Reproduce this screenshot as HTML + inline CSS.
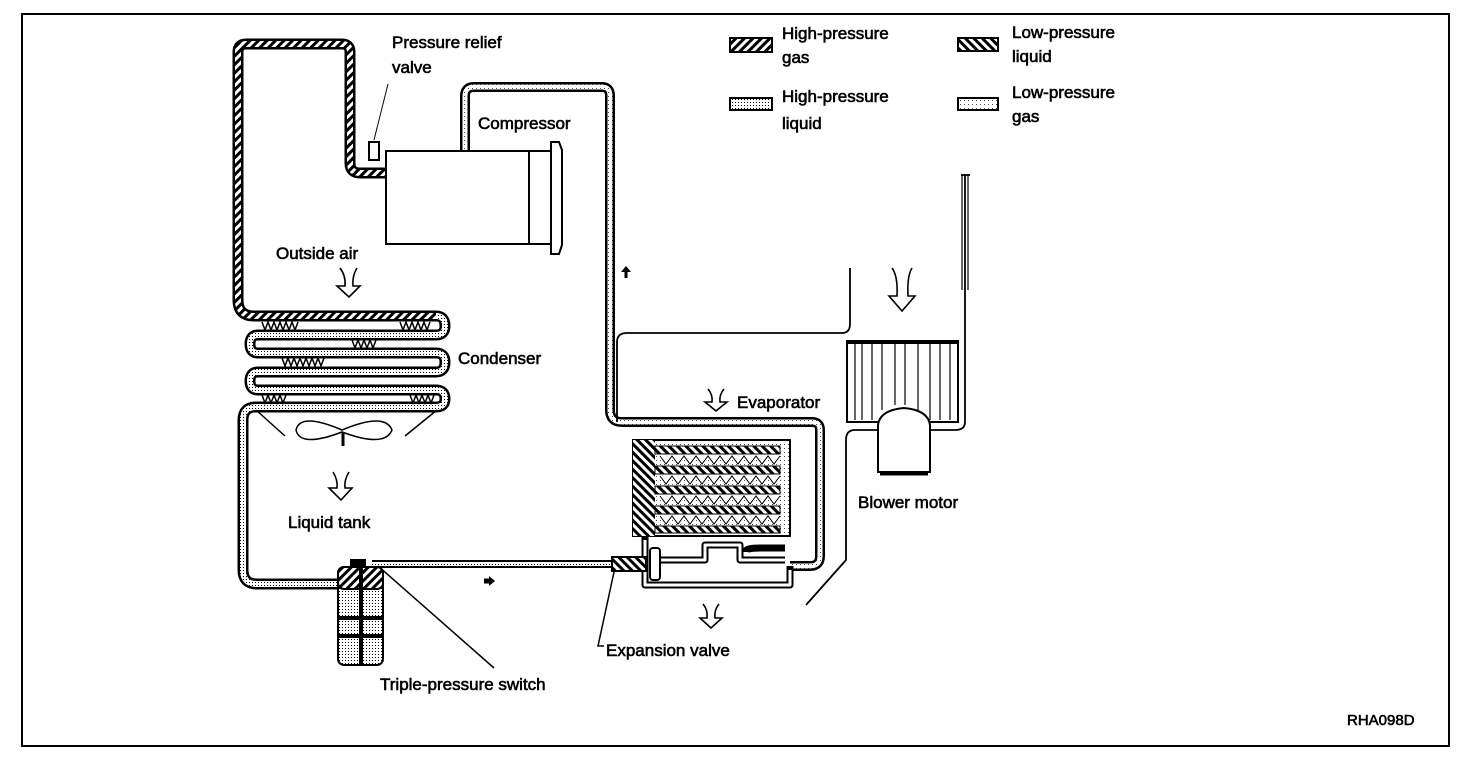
<!DOCTYPE html>
<html><head><meta charset="utf-8"><style>
html,body{margin:0;padding:0;background:#fff}
svg{display:block}
text{font-family:"Liberation Sans",sans-serif;font-size:17px;fill:#000;stroke:#000;stroke-width:0.6}
</style></head><body>
<svg width="1472" height="770" viewBox="0 0 1472 770" xmlns="http://www.w3.org/2000/svg">
<defs>
<pattern id="hg" width="6" height="6" patternUnits="userSpaceOnUse" patternTransform="rotate(45)">
<rect width="6" height="6" fill="#fff"/><rect width="3" height="6" fill="#000"/></pattern>
<pattern id="ll" width="6" height="6" patternUnits="userSpaceOnUse" patternTransform="rotate(-45)">
<rect width="6" height="6" fill="#fff"/><rect width="3" height="6" fill="#000"/></pattern>
<pattern id="hl" width="3" height="3" patternUnits="userSpaceOnUse">
<rect width="3" height="3" fill="#fff"/><rect width="1" height="1" fill="#000"/></pattern>
<pattern id="lg" width="4" height="4" patternUnits="userSpaceOnUse">
<rect width="4" height="4" fill="#fff"/><rect width="1" height="1" fill="#555"/></pattern>
</defs>
<rect x="22" y="14" width="1427" height="732" fill="none" stroke="#000" stroke-width="2"/>

<!-- legend -->
<rect x="730" y="38" width="42" height="14" fill="url(#hg)" stroke="#000" stroke-width="2"/>
<rect x="730" y="98" width="42" height="12" fill="url(#hl)" stroke="#000" stroke-width="2"/>
<rect x="958" y="38" width="40" height="13" fill="url(#ll)" stroke="#000" stroke-width="2"/>
<rect x="958" y="98" width="40" height="12" fill="url(#lg)" stroke="#000" stroke-width="2"/>
<text x="782" y="39">High-pressure</text><text x="782" y="63">gas</text>
<text x="782" y="102">High-pressure</text><text x="782" y="129">liquid</text>
<text x="1012" y="38">Low-pressure</text><text x="1012" y="62">liquid</text>
<text x="1012" y="98">Low-pressure</text><text x="1012" y="122">gas</text>

<!-- high-pressure gas pipe -->
<g fill="none" stroke-linejoin="round">
<path d="M386,173 L360,173 Q350,173 350,163 L350,52 Q350,44 342,44 L246,44 Q238,44 238,52 L238,300 Q238,316 254,316 L436,316 Q445,316 445,326 Q445,335 436,335 L258,335 Q250,335 250,344 Q250,353 258,353 L436,353 Q445,353 445,362 Q445,372 436,372 L258,372 Q250,372 250,381 Q250,390 258,390 L436,390 Q445,390 445,399 Q445,407 436,407 L256,407 Q243,407 243,420 L243,570 Q243,584 257,584 L340,584" stroke="#000" stroke-width="11"/>
<path d="M386,173 L360,173 Q350,173 350,163 L350,52 Q350,44 342,44 L246,44 Q238,44 238,52 L238,300 Q238,316 254,316 L436,316" stroke="url(#hg)" stroke-width="6"/>
<path d="M436,316 Q445,316 445,326 Q445,335 436,335 L258,335 Q250,335 250,344 Q250,353 258,353 L436,353 Q445,353 445,362 Q445,372 436,372 L258,372 Q250,372 250,381 Q250,390 258,390 L436,390 Q445,390 445,399 Q445,407 436,407 L256,407 Q243,407 243,420 L243,570 Q243,584 257,584 L340,584" stroke="url(#hl)" stroke-width="6"/>
<path d="M372,564 L612,564" stroke="#000" stroke-width="8"/>
<path d="M372,564 L612,564" stroke="url(#hl)" stroke-width="4"/>
<path d="M465,152 L465,96 Q465,87 474,87 L602,87 Q610,87 610,96 L610,410 Q610,422 622,422 L812,422 Q820,422 820,430 L820,556 Q820,566 810,566 L790,566" stroke="#000" stroke-width="10"/>
<path d="M465,152 L465,96 Q465,87 474,87 L602,87 Q610,87 610,96 L610,410 Q610,422 622,422 L812,422 Q820,422 820,430 L820,556 Q820,566 810,566 L790,566" stroke="url(#lg)" stroke-width="5"/>
</g>
<g stroke="#000" stroke-width="1.5" fill="none">
<path d="M262,322 l3,8 l3,-8 l3,8 l3,-8 l3,8 l3,-8 l3,8 l3,-8 l3,8 l3,-8 l3,8 l3,-8 M400,322 l3,8 l3,-8 l3,8 l3,-8 l3,8 l3,-8 l3,8 l3,-8 l3,8 l3,-8"/>
<path d="M352,340 l3,8 l3,-8 l3,8 l3,-8 l3,8 l3,-8 l3,8 l3,-8"/>
<path d="M282,358 l3,8 l3,-8 l3,8 l3,-8 l3,8 l3,-8 l3,8 l3,-8 l3,8 l3,-8 l3,8 l3,-8 l3,8 l3,-8"/>
<path d="M262,395 l3,8 l3,-8 l3,8 l3,-8 l3,8 l3,-8 l3,8 l3,-8 M410,395 l3,8 l3,-8 l3,8 l3,-8 l3,8 l3,-8 l3,8 l3,-8"/>
<path d="M256,410 L285,436 M437,410 L405,436"/>
<path d="M342,430 Q300,412 296,430 Q300,448 342,432 Q385,448 392,430 Q385,412 342,430 Z"/>
<path d="M343,432 L343,446" stroke-width="3"/>
</g>
<g stroke="#000" stroke-width="2" fill="#fff">
<rect x="386" y="151" width="143" height="93"/>
<rect x="529" y="151" width="22" height="93"/>
<path d="M551,142 L559,142 L562,150 L562,245 L559,254 L551,254 Z"/>
<rect x="369" y="142" width="10" height="18"/>
</g>
<line x1="388" y1="84" x2="374" y2="140" stroke="#000" stroke-width="1"/>
<path d="M626,278 l0,-9" stroke="#000" stroke-width="3"/><path d="M621,272 l5,-6 l5,6z"/>
<path d="M484,581 l8,0" stroke="#000" stroke-width="5"/><path d="M489,576 l6,5 l-6,5z"/>

<g fill="#fff" stroke="#000" stroke-width="1.6">
<path d="M340,268 Q346,276 345,286 L337,286 L349,297 L360,286 L353,286 Q352,276 357,268"/>
<path d="M333,472 Q338,480 337,488 L329,488 L341,500 L352,488 L345,488 Q344,480 349,472"/>
<path d="M892,268 Q898,276 897,296 L889,296 L902,311 L915,296 L908,296 Q907,276 912,268"/>
<path d="M708,389 Q713,395 712,402 L705,402 L716,411 L727,402 L720,402 Q719,395 724,389"/>
<path d="M703,604 Q708,610 707,618 L700,618 L711,628 L722,618 L715,618 Q714,610 719,604"/>
</g>

<rect x="338" y="567" width="45" height="98" rx="6" fill="url(#hl)" stroke="#000" stroke-width="2"/>
<rect x="338" y="567" width="45" height="22" rx="6" fill="url(#hg)" stroke="#000" stroke-width="2"/>
<line x1="361" y1="567" x2="361" y2="665" stroke="#000" stroke-width="4"/>
<line x1="338" y1="618" x2="383" y2="618" stroke="#000" stroke-width="4"/>
<line x1="338" y1="636" x2="383" y2="636" stroke="#000" stroke-width="4"/>
<rect x="350" y="559" width="16" height="8" fill="#000"/>
<line x1="378" y1="566" x2="494" y2="668" stroke="#000" stroke-width="1.5"/>

<g fill="none" stroke="#000" stroke-width="1.8">
<path d="M617,422 L617,342 Q617,333 627,333 L842,333 Q850,333 850,324 L850,268"/>
<path d="M965,175 L965,422 Q965,430 955,430 L855,430 Q846,430 846,440 L846,560 L806,605"/>
<path d="M961,175 L970,175"/>
<path d="M962,175 L962,290 M968,175 L968,290" stroke-width="1.2"/>
</g>
<rect x="633" y="440" width="157" height="96" fill="url(#lg)" stroke="#000" stroke-width="2"/>
<rect x="633" y="440" width="22" height="96" fill="url(#ll)"/>
<g fill="url(#ll)" stroke="#000" stroke-width="1">
<rect x="655" y="446" width="125" height="8"/><rect x="655" y="466" width="125" height="8"/>
<rect x="655" y="486" width="125" height="8"/><rect x="655" y="506" width="125" height="8"/>
<rect x="655" y="526" width="125" height="7"/>
</g>
<g fill="#fff" stroke="#000" stroke-width="1">
<path d="M660,456 l6,8 l6,-8 l6,8 l6,-8 l6,8 l6,-8 l6,8 l6,-8 l6,8 l6,-8 l6,8 l6,-8 l6,8 l6,-8 l6,8 l6,-8 l6,8 l6,-8 l6,8 l6,-8"/>
<path d="M660,476 l6,8 l6,-8 l6,8 l6,-8 l6,8 l6,-8 l6,8 l6,-8 l6,8 l6,-8 l6,8 l6,-8 l6,8 l6,-8 l6,8 l6,-8 l6,8 l6,-8 l6,8 l6,-8"/>
<path d="M660,496 l6,8 l6,-8 l6,8 l6,-8 l6,8 l6,-8 l6,8 l6,-8 l6,8 l6,-8 l6,8 l6,-8 l6,8 l6,-8 l6,8 l6,-8 l6,8 l6,-8 l6,8 l6,-8"/>
<path d="M660,516 l6,8 l6,-8 l6,8 l6,-8 l6,8 l6,-8 l6,8 l6,-8 l6,8 l6,-8 l6,8 l6,-8 l6,8 l6,-8 l6,8 l6,-8 l6,8 l6,-8 l6,8 l6,-8"/>
</g>
<g fill="none" stroke="#000" stroke-width="7" stroke-linejoin="round">
<path d="M645,536 L645,585 L790,585 L790,566"/>
<path d="M655,560 L705,560 L705,545 L740,545 L740,560 L785,560"/>
<path d="M745,552 Q745,548 760,548 L785,548"/>
</g>
<g fill="none" stroke="#fff" stroke-width="3" stroke-linejoin="round">
<path d="M645,540 L645,585 L790,585 L790,570"/>
<path d="M658,560 L705,560 L705,545 L740,545 L740,560 L785,560"/>
</g>
<rect x="612" y="557" width="34" height="14" fill="url(#ll)" stroke="#000" stroke-width="2"/>
<rect x="650" y="548" width="10" height="32" rx="3" fill="#fff" stroke="#000" stroke-width="2"/>
<path d="M614,572 L598,646 L604,646" fill="none" stroke="#000" stroke-width="1.5"/>

<rect x="847" y="341" width="111" height="81" fill="#fff" stroke="#000" stroke-width="2"/>
<line x1="846" y1="342" x2="959" y2="342" stroke="#000" stroke-width="4"/>
<g stroke="#000" stroke-width="1.2">
<line x1="855" y1="342" x2="855" y2="420"/><line x1="862" y1="342" x2="862" y2="420"/>
<line x1="872" y1="342" x2="872" y2="420"/><line x1="882" y1="342" x2="882" y2="410"/>
<line x1="895" y1="342" x2="895" y2="405"/><line x1="905" y1="342" x2="905" y2="405"/>
<line x1="918" y1="342" x2="918" y2="410"/><line x1="930" y1="342" x2="930" y2="420"/>
<line x1="940" y1="342" x2="940" y2="420"/><line x1="950" y1="342" x2="950" y2="420"/>
</g>
<path d="M878,425 Q880,410 904,408 Q928,410 930,425 L930,472 L878,472 Z" fill="#fff" stroke="#000" stroke-width="2"/>
<line x1="880" y1="474" x2="928" y2="474" stroke="#000" stroke-width="3"/>

<text x="392" y="48">Pressure relief</text>
<text x="392" y="73">valve</text>
<text x="478" y="129">Compressor</text>
<text x="276" y="259">Outside air</text>
<text x="458" y="364">Condenser</text>
<text x="288" y="528">Liquid tank</text>
<text x="737" y="408">Evaporator</text>
<text x="858" y="508">Blower motor</text>
<text x="606" y="656">Expansion valve</text>
<text x="380" y="690">Triple-pressure switch</text>
<text x="1347" y="725" style="font-size:15px">RHA098D</text>
</svg>
</body></html>
